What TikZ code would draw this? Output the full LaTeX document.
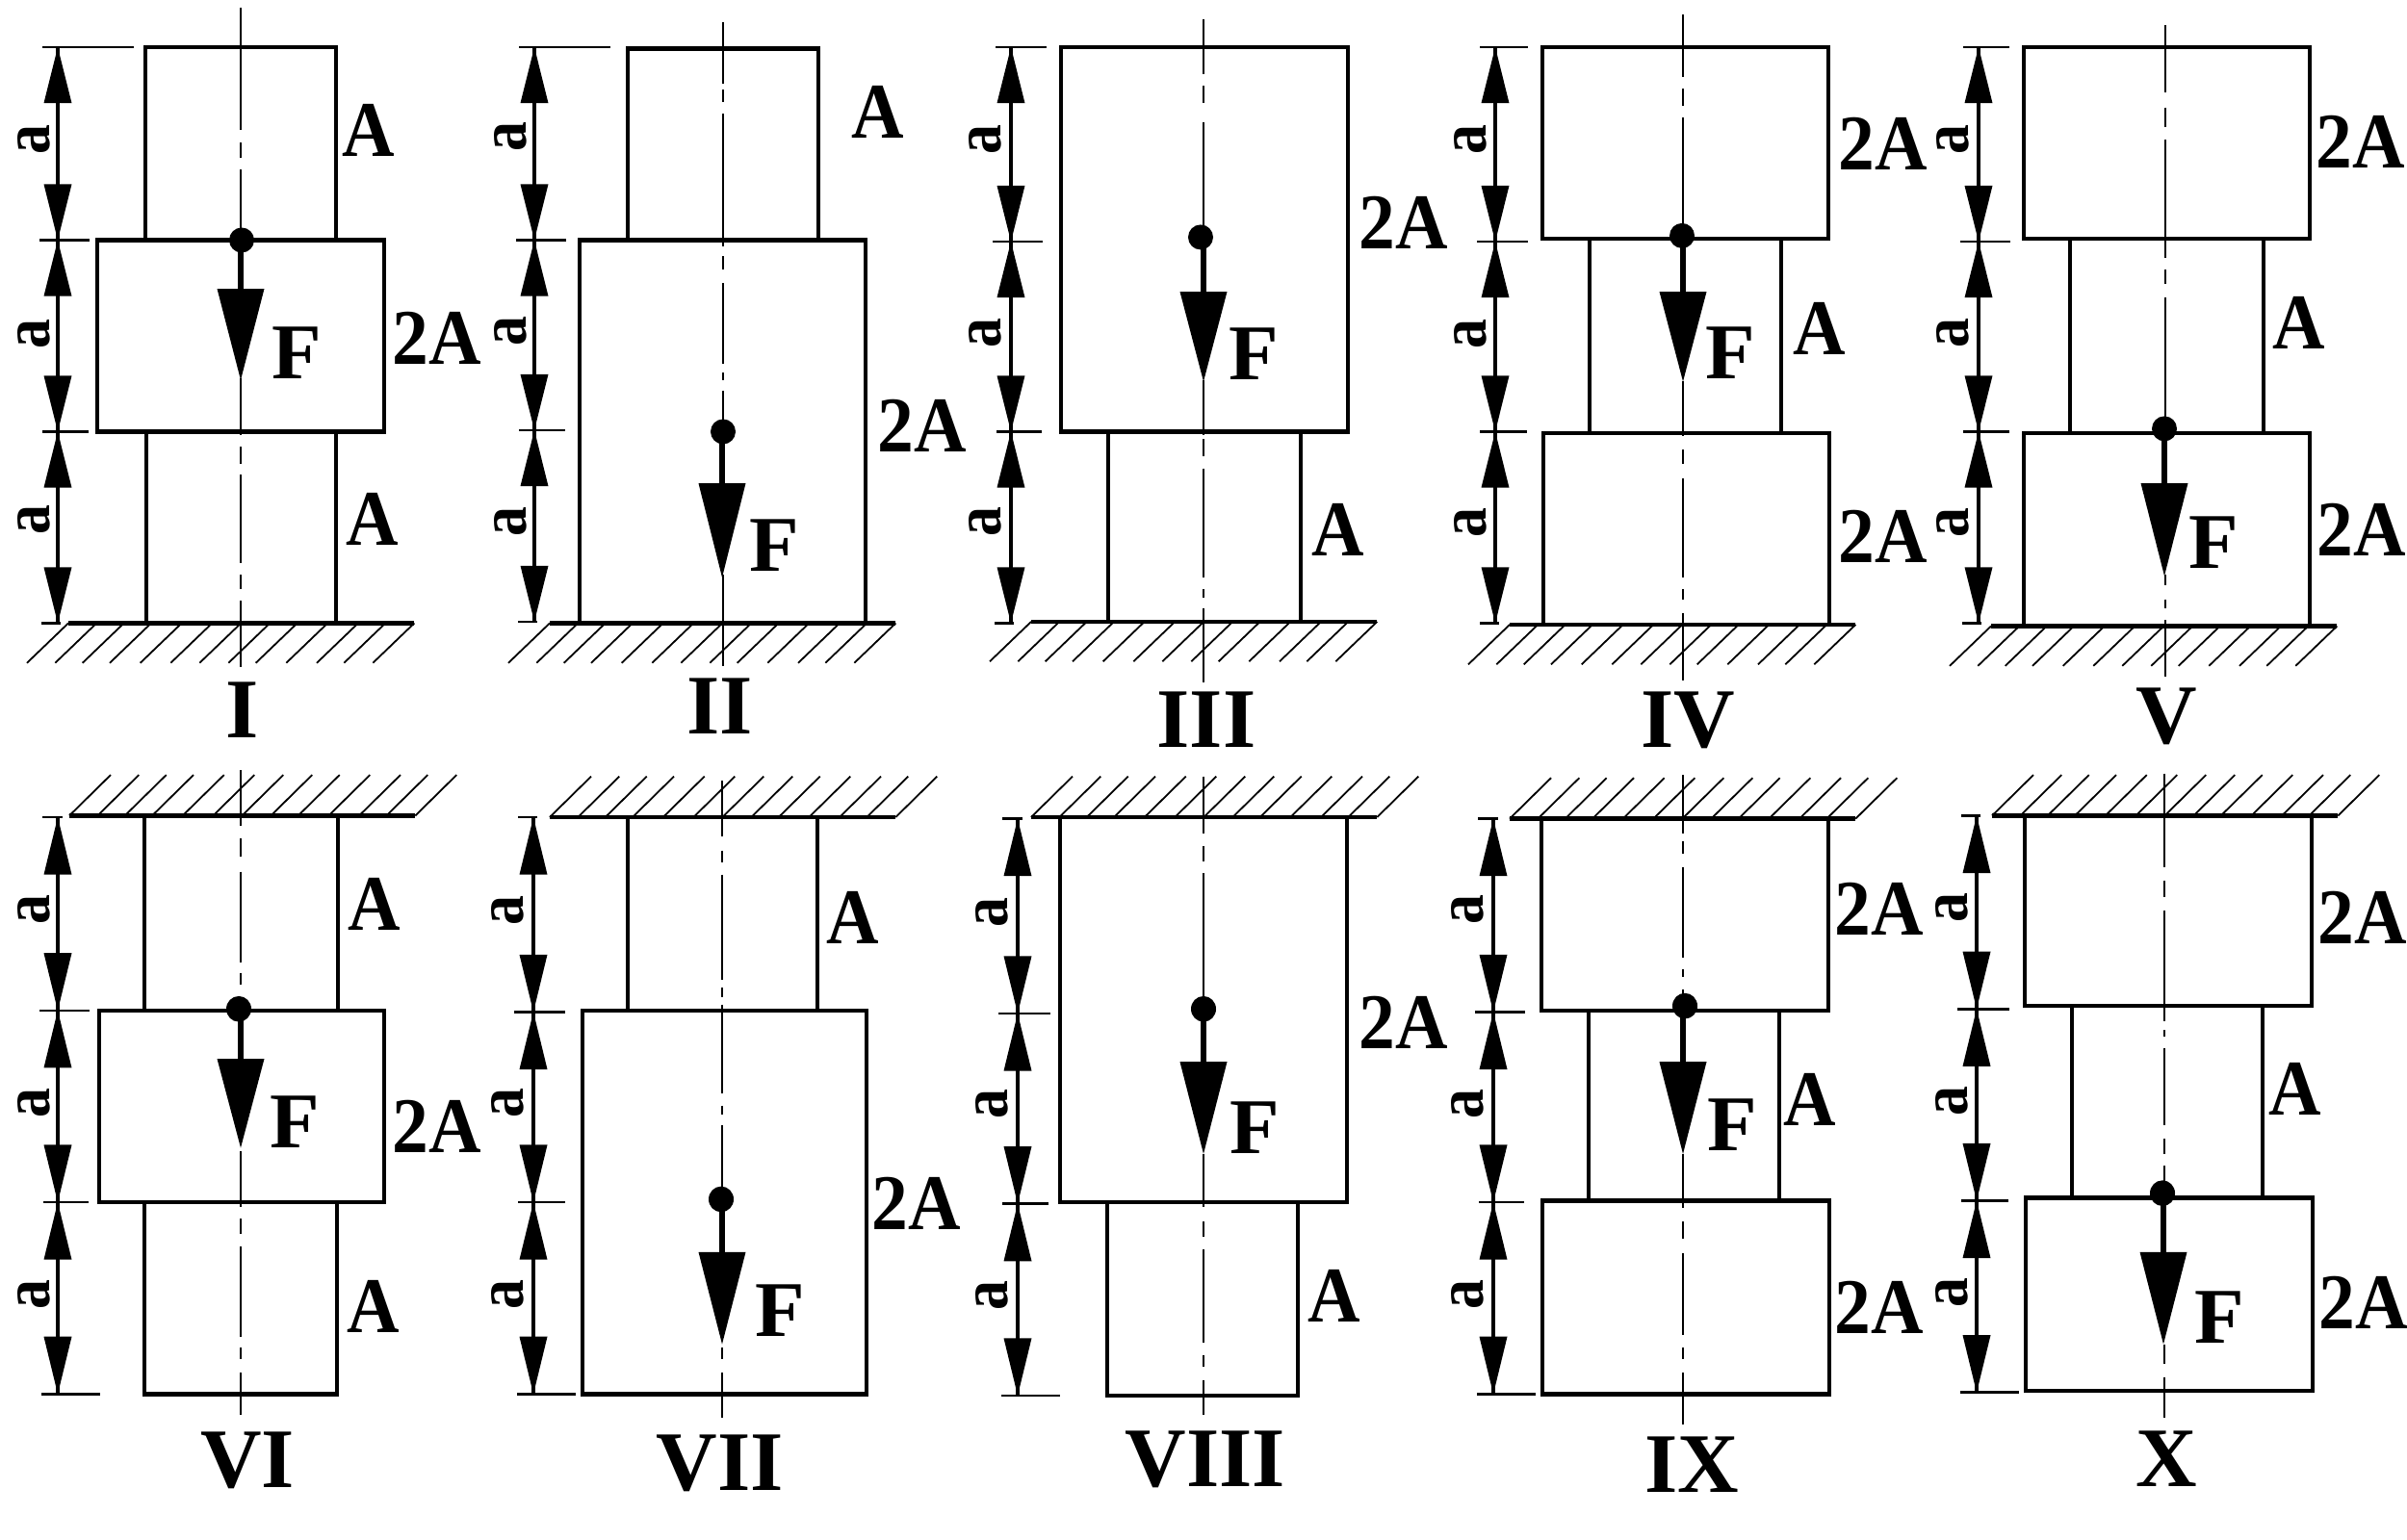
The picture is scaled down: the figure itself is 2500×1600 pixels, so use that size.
\documentclass[tikz,border=0pt]{standalone}
\usepackage{graphicx}
\usepackage{fontspec}
\setmainfont{Liberation Serif}
\tikzset{
  blk/.style={line width=2.2pt,line join=miter},
  tickln/.style={line width=1.3pt},
  shaft/.style={line width=1.7pt},
  axisln/.style={line width=1.0pt},
  hatchln/.style={line width=0.9pt},
  gndln/.style={line width=2.1pt},
  stemln/.style={line width=2.6pt},
  lab/.style={inner sep=0pt,anchor=base,font=\fontsize{41pt}{41pt}\selectfont\bfseries},
  rom/.style={inner sep=0pt,anchor=base,font=\fontsize{44pt}{44pt}\selectfont\bfseries},
  dimlab/.style={inner sep=0pt,rotate=90,font=\bfseries}
}
\newcommand\Blk[4]{\draw[blk] (#1,#2) rectangle (#3,#4);}
\newcommand\Tick[3]{\draw[tickln] (#2,#1) -- (#3,#1);}
\newcommand\Dimn[3]{%
  \draw[shaft] (#1,#2) -- (#1,#3);
  \fill (#1,#2) -- ++(-14.5,38) -- ++(29,0) -- cycle;
  \fill (#1,#3) -- ++(-14.5,-38) -- ++(29,0) -- cycle;}
\newcommand\GndBelow[2]{%
  \draw[gndln] (#1,#2) -- ++(359,0);
  \foreach \o in {0,29.3,57.7,86,117.7,149.3,179.3,209.3,237.7,269.3,301,329.3,359.3}
    \draw[hatchln] (#1+\o,#2) -- ++(-43,27);}
\newcommand\GndAbove[2]{%
  \draw[gndln] (#1,#2) -- ++(359,0);
  \foreach \o in {0,29.3,57.7,86,117.7,149.3,179.3,209.3,237.7,269.3,301,329.3,359.3}
    \draw[hatchln] (#1+\o,#2) -- ++(43,-27);}
\newcommand\Axis[2]{\foreach \a/\b in {#2} \draw[axisln] (#1,\a) -- (#1,\b);}
\newcommand\Load[5]{%
  \draw[stemln] (#3,#2) -- (#3,#4+1);
  \fill (#3,#5) -- ++(-24.5,-#5+#4) -- ++(49,0) -- cycle;
  \fill (#1,#2) ellipse [x radius=13,y radius=8.5];}
\newcommand\Lab[4]{\node[lab] (#1) at (#2,#3) {\scalebox{0.92}[1]{#4}};}
\newcommand\Frc[3]{\node[lab] (#1) at (#2,#3) {\scalebox{1.03}[1]{F}};}
\newcommand\Rom[4]{\node[rom] (#1) at (#2,#3) {#4};}
\newcommand\Ltr[3]{\node[dimlab] (#1) at (#2,#3) {\resizebox{15.5pt}{16.5pt}{a}};}
\begin{document}
\begin{tikzpicture}[x=0.5pt,y=-0.5pt]
\useasboundingbox (0,0) rectangle (2500,1600);
\fill[white] (0,0) rectangle (2500,1600);
\begin{scope}[y=-0.7653pt]
% ---------- I
\Axis{250}{5/88,97/107,115/160,257/295,303/315,322/382,390/400,408/453}
\Blk{151}{32}{349}{163}\Blk{101}{163}{399}{293}\Blk{152}{293}{349}{423}
\GndBelow{71}{423}
\Tick{32}{44}{139}\Tick{163}{41}{93}\Tick{293}{44}{92}\Tick{423}{43}{63}
\Dimn{60}{32}{163}\Dimn{60}{163}{293}\Dimn{60}{293}{423}
\Load{251}{163}{250}{196}{258}
\Ltr{i1}{35}{95}\Ltr{i2}{35}{227}\Ltr{i3}{35}{353}
\Frc{iF}{308}{257}\Lab{iA1}{383}{106}{A}\Lab{iA2}{454}{247}{2A}\Lab{iA3}{387}{370}{A}
\Rom{iR}{252}{501}{I}
% ---------- II
\Axis{751}{15/57,61/69,77/167,174/183,192/247,253/258,265/287,390/452}
\Blk{652}{33}{850}{163}\Blk{602}{163}{899}{423}
\GndBelow{571}{423}
\Tick{32}{539}{634}\Tick{163}{536}{588}\Tick{292}{539}{587}\Tick{422}{538}{558}
\Dimn{555}{32}{163}\Dimn{555}{163}{292}\Dimn{555}{292}{422}
\Load{751}{293}{750}{328}{392}
\Ltr{ii1}{530}{93}\Ltr{ii2}{530}{225}\Ltr{ii3}{530}{354}
\Frc{iiF}{804}{388}\Lab{iiA1}{912}{94}{A}\Lab{iiA2}{958}{307}{2A}
\Rom{iiR}{748}{498}{II}
% ---------- III
\Axis{1250}{13/50,58/70,83/155,258/295,298/310,318/392,400/406,413/463}
\Blk{1102}{32}{1400}{293}\Blk{1151}{293}{1351}{422}
\GndBelow{1071}{422}
\Tick{32}{1034}{1087}\Tick{164}{1031}{1083}\Tick{293}{1035}{1082}\Tick{423}{1033}{1053}
\Dimn{1050}{32}{164}\Dimn{1050}{164}{293}\Dimn{1050}{293}{423}
\Load{1247}{161}{1250}{198}{259}
\Ltr{iii1}{1023}{95}\Ltr{iii2}{1023}{226}\Ltr{iii3}{1023}{354}
\Frc{iiiF}{1302}{258}\Lab{iiiA1}{1458}{169}{2A}\Lab{iiiA2}{1390}{377}{A}
\Rom{iiiR}{1253}{507}{III}
% ---------- IV
\Axis{1748}{10/52,60/72,80/155,259/296,305/315,325/392,400/407,416/462}
\Blk{1602}{32}{1899}{162}\Blk{1651}{162}{1850}{294}\Blk{1603}{294}{1900}{424}
\GndBelow{1568}{424}
\Tick{32}{1537}{1587}\Tick{164}{1534}{1587}\Tick{293}{1537}{1586}\Tick{423}{1537}{1557}
\Dimn{1553}{32}{164}\Dimn{1553}{164}{293}\Dimn{1553}{293}{423}
\Load{1747}{160}{1748}{198}{259}
\Ltr{iv1}{1527}{95}\Ltr{iv2}{1527}{227}\Ltr{iv3}{1527}{355}
\Frc{ivF}{1797}{257}\Lab{ivA1}{1956}{115}{2A}\Lab{ivA2}{1890}{241}{A}\Lab{ivA3}{1956}{382}{2A}
\Rom{ivR}{1753}{507}{IV}
% ---------- V
\Axis{2249}{17/63,73/86,95/175,183/193,202/283,390/397,407/413,421/459}
\Blk{2102}{32}{2399}{162}\Blk{2150}{162}{2351}{294}\Blk{2102}{294}{2399}{425}
\GndBelow{2068}{425}
\Tick{32}{2039}{2087}\Tick{164}{2036}{2088}\Tick{293}{2039}{2087}\Tick{423}{2038}{2058}
\Dimn{2055}{32}{164}\Dimn{2055}{164}{293}\Dimn{2055}{293}{423}
\Load{2248}{291}{2248}{328}{391}
\Ltr{v1}{2028}{95}\Ltr{v2}{2028}{226}\Ltr{v3}{2028}{355}
\Frc{vF}{2299}{386}\Lab{vA1}{2452}{114}{2A}\Lab{vA2}{2388}{237}{A}\Lab{vA3}{2453}{377}{2A}
\Rom{vR}{2250}{505}{V}
\end{scope}
\begin{scope}[y=-0.78444pt,shift={(0pt,221.87pt)}]
% ---------- VI
\Axis{250}{793/830,838/850,860/920,927/935,1045/1082,1090/1100,1108/1168,1175/1183,1192/1220}
\Blk{150}{823}{351}{952}\Blk{103}{952}{399}{1079}\Blk{150}{1079}{350}{1206}
\GndAbove{72}{823}
\Tick{824}{44}{65}\Tick{952}{41}{93}\Tick{1079}{45}{92}\Tick{1206}{43}{104}
\Dimn{60}{824}{952}\Dimn{60}{952}{1079}\Dimn{60}{1079}{1206}
\Load{248}{951}{250}{984}{1043}
\Ltr{vi1}{35}{885}\Ltr{vi2}{35}{1013}\Ltr{vi3}{35}{1140}
\Frc{viF}{306}{1043}\Lab{viA1}{389}{899}{A}\Lab{viA2}{454}{1046}{2A}\Lab{viA3}{388}{1165}{A}
\Rom{viR}{257}{1268}{VI}
% ---------- VII
\Axis{750}{800/837,846/854,862/932,937/943,948/1007,1015/1021,1028/1070,1175/1183,1192/1222}
\Blk{652}{824}{849}{952}\Blk{605}{952}{900}{1206}
\GndAbove{571}{824}
\Tick{824}{538}{558}\Tick{953}{534}{587}\Tick{1079}{538}{587}\Tick{1206}{537}{598}
\Dimn{554}{824}{953}\Dimn{554}{953}{1079}\Dimn{554}{1079}{1206}
\Load{749}{1077}{750}{1112}{1173}
\Ltr{vii1}{527}{886}\Ltr{vii2}{527}{1013}\Ltr{vii3}{527}{1140}
\Frc{viiF}{810}{1168}\Lab{viiA1}{886}{908}{A}\Lab{viiA2}{952}{1097}{2A}
\Rom{viiR}{748}{1270}{VII}
% ---------- VIII
\Axis{1250}{797/835,843/853,861/945,1047/1082,1092/1102,1110/1172,1180/1188,1197/1220}
\Blk{1101}{824}{1399}{1079}\Blk{1150}{1079}{1348}{1207}
\GndAbove{1071}{824}
\Tick{825}{1041}{1062}\Tick{954}{1037}{1091}\Tick{1080}{1041}{1089}\Tick{1207}{1040}{1101}
\Dimn{1057}{825}{954}\Dimn{1057}{954}{1080}\Dimn{1057}{1080}{1207}
\Load{1250}{951}{1250}{986}{1047}
\Ltr{viii1}{1030}{887}\Ltr{viii2}{1030}{1014}\Ltr{viii3}{1030}{1141}
\Frc{viiiF}{1303}{1047}\Lab{viiiA1}{1458}{977}{2A}\Lab{viiiA2}{1386}{1158}{A}
\Rom{viiiR}{1252}{1267}{VIII}
% ---------- IX
\Axis{1748}{796/835,840/848,857/917,925/930,938/943,1047/1083,1092/1103,1113/1167,1175/1183,1192/1226}
\Blk{1601}{825}{1899}{952}\Blk{1650}{952}{1848}{1078}\Blk{1602}{1078}{1900}{1206}
\GndAbove{1568}{825}
\Tick{825}{1535}{1556}\Tick{953}{1532}{1584}\Tick{1079}{1536}{1583}\Tick{1206}{1534}{1595}
\Dimn{1551}{825}{953}\Dimn{1551}{953}{1079}\Dimn{1551}{1079}{1206}
\Load{1750}{949}{1748}{986}{1047}
\Ltr{ix1}{1524}{885}\Ltr{ix2}{1524}{1014}\Ltr{ix3}{1524}{1140}
\Frc{ixF}{1799}{1045}\Lab{ixA1}{1952}{902}{2A}\Lab{ixA2}{1880}{1028}{A}\Lab{ixA3}{1952}{1166}{2A}
\Rom{ixR}{1757}{1271}{IX}
% ---------- X
\Axis{2248}{795/857,866/877,886/959,965/969,977/1028,1037/1047,1055/1067,1173/1186,1195/1222}
\Blk{2103}{823}{2401}{949}\Blk{2152}{949}{2350}{1076}\Blk{2104}{1076}{2402}{1204}
\GndAbove{2069}{823}
\Tick{823}{2037}{2057}\Tick{951}{2033}{2087}\Tick{1078}{2037}{2086}\Tick{1205}{2036}{2097}
\Dimn{2053}{823}{951}\Dimn{2053}{951}{1078}\Dimn{2053}{1078}{1205}
\Load{2246}{1073}{2247}{1112}{1173}
\Ltr{x1}{2027}{884}\Ltr{x2}{2027}{1012}\Ltr{x3}{2027}{1139}
\Frc{xF}{2305}{1172}\Lab{xA1}{2454}{908}{2A}\Lab{xA2}{2384}{1021}{A}\Lab{xA3}{2455}{1163}{2A}
\Rom{xR}{2250}{1267}{X}
\end{scope}
\end{tikzpicture}
\end{document}
